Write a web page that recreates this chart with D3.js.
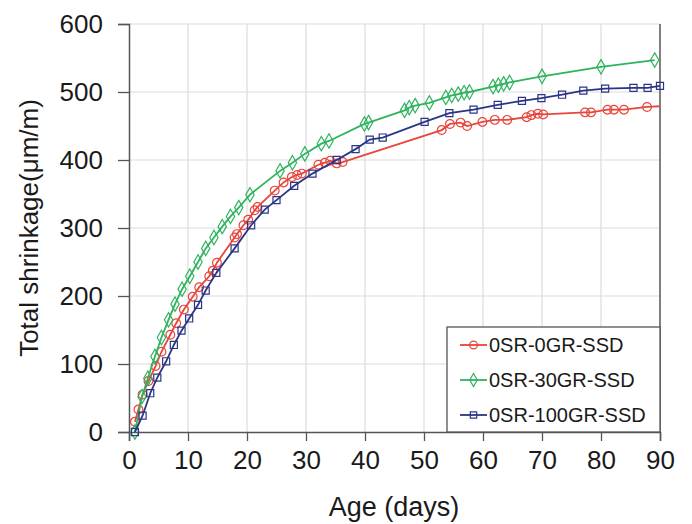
<!DOCTYPE html>
<html>
<head>
<meta charset="utf-8">
<script src="https://cdn.jsdelivr.net/npm/d3@7"></script>
<style>
  html, body { margin: 0; padding: 0; background: #fff; }
  svg { display: block; font-family: "Liberation Sans", Arial, sans-serif; }
</style>
</head>
<body>
<svg id="chart" width="692" height="524"></svg>
<script>
// ---- data ----
const xTicks = [0, 10, 20, 30, 40, 50, 60, 70, 80, 90];
const yTicks = [0, 100, 200, 300, 400, 500, 600];
const seriesNames = ["0SR-0GR-SSD", "0SR-30GR-SSD", "0SR-100GR-SSD"];

const redDays = [1, 1.6, 2.3, 3.3, 4.5, 5.5, 7.0, 8.0, 9.3, 10.8, 11.9, 13.6, 14.2, 14.9, 17.9, 18.3, 19.4, 20.2, 21.3, 21.8, 24.7, 26.2, 27.6, 28.5, 29.3, 32.1, 33.2, 34.1, 35.2, 36.2, 53.0, 54.4, 56.2, 57.3, 59.9, 62.0, 64.1, 67.4, 68.2, 69.3, 70.2, 77.3, 78.3, 81.1, 82.2, 83.9, 87.8, 92];
const redVals = [15, 33, 55, 75, 97, 118, 143, 160, 180, 199, 213, 229, 237, 249, 286, 291, 304, 312, 326, 331, 355, 367, 375, 378, 380, 393, 396, 399, 395, 397, 444, 453, 455, 450, 456, 459, 459, 463, 466, 468, 467, 470, 470, 474, 474, 474, 478, 480];

const greenDays = [1, 2.2, 3.2, 4.4, 5.5, 6.7, 7.8, 9.0, 10.3, 11.7, 13.0, 14.4, 15.8, 17.2, 18.6, 20.5, 25.6, 27.7, 29.8, 32.6, 33.9, 39.9, 40.6, 46.7, 47.5, 48.5, 50.9, 53.7, 54.7, 55.8, 56.8, 57.7, 61.7, 62.6, 63.5, 64.5, 70, 80, 89.1];
const greenVals = [0, 52, 79, 111, 139, 165, 188, 210, 229, 250, 270, 286, 302, 317, 330, 349, 384, 396, 409, 424, 428, 453, 455, 473, 477, 480, 484, 492, 495, 497, 499, 500, 508, 510, 512, 514, 523, 537, 547];

const blueDays = [1, 2.3, 3.6, 4.8, 6.3, 7.6, 8.9, 10.2, 11.7, 13.0, 14.8, 17.9, 20.7, 23.0, 25.0, 28.0, 31.1, 35.2, 38.4, 40.8, 43.0, 50.1, 54.3, 58.4, 62.5, 66.6, 69.9, 73.4, 77.0, 80.7, 85.5, 87.9, 90];
const blueVals = [0, 24, 57, 80, 104, 128, 149, 167, 187, 208, 234, 270, 304, 327, 341, 362, 380, 400, 416, 430, 433, 456, 469, 474, 481, 487, 491, 496, 502, 505, 506, 506, 509];

const colors = ["#e8453c", "#2fb35e", "#2b3585"];
const symbols = [d3.symbolCircle, d3.symbolDiamond, d3.symbolSquare];
const symbolSizes = [60, 60, 50];

const series = [
  { name: seriesNames[0], days: redDays, vals: redVals },
  { name: seriesNames[1], days: greenDays, vals: greenVals },
  { name: seriesNames[2], days: blueDays, vals: blueVals }
];

// ---- layout ----
const svg = d3.select("#chart");
const x = d3.scaleLinear().domain([0, 90]).range([129, 660]);
const y = d3.scaleLinear().domain([0, 600]).range([432, 24]);

svg.append("defs").append("clipPath").attr("id", "plotclip")
  .append("rect")
  .attr("x", x(0)).attr("y", y(600))
  .attr("width", x(90) - x(0)).attr("height", y(0) - y(600));

// gridlines
const grid = svg.append("g");
grid.selectAll("line.vx").data(xTicks.filter(d => d > 0 && d < 90)).enter().append("line")
  .attr("x1", d => x(d)).attr("x2", d => x(d))
  .attr("y1", y(0)).attr("y2", y(600))
  .attr("stroke", "#dcdcdc").attr("stroke-width", 1.2);
grid.selectAll("line.hy").data(yTicks.filter(d => d > 0)).enter().append("line")
  .attr("x1", x(0)).attr("x2", x(90))
  .attr("y1", d => y(d)).attr("y2", d => y(d))
  .attr("stroke", "#dcdcdc").attr("stroke-width", 1.2);

// right border
svg.append("line")
  .attr("x1", x(90)).attr("x2", x(90)).attr("y1", y(0)).attr("y2", y(600))
  .attr("stroke", "#555").attr("stroke-width", 1.5);

// axes
const xAxis = d3.axisBottom(x).tickValues(xTicks).tickSize(9).tickPadding(12);
const yAxis = d3.axisLeft(y).tickValues(yTicks).tickSize(11).tickPadding(15);

const gx = svg.append("g").attr("transform", `translate(0,${y(0)})`).call(xAxis);
const gy = svg.append("g").attr("transform", `translate(${x(0)},0)`).call(yAxis);
[gx, gy].forEach(g => {
  g.select(".domain").attr("stroke", "#555").attr("stroke-width", 1.5);
  g.selectAll(".tick line").attr("stroke", "#555").attr("stroke-width", 1.3);
  g.selectAll(".tick text").attr("fill", "#1a1a1a")
    .style("font-size", "26px").style("font-family", "'Liberation Sans', Arial, sans-serif");
});
gx.selectAll(".tick text").attr("dy", "0.62em");

// series lines + markers
const line = d3.line().x(d => x(d[0])).y(d => y(d[1])).curve(d3.curveLinear);
series.forEach((s, i) => {
  const pts = s.days.map((d, k) => [d, s.vals[k]]);
  svg.append("path")
    .datum(pts)
    .attr("clip-path", "url(#plotclip)")
    .attr("fill", "none")
    .attr("stroke", colors[i])
    .attr("stroke-width", 1.8)
    .attr("d", line);
  svg.append("g").selectAll("path").data(pts.filter(p => p[0] <= 90)).enter().append("path")
    .attr("transform", p => `translate(${x(p[0])},${y(p[1])})`)
    .attr("d", d3.symbol().type(symbols[i]).size(symbolSizes[i]))
    .attr("fill", "none")
    .attr("stroke", colors[i])
    .attr("stroke-width", 1.2);
});

// legend
const lg = svg.append("g");
lg.append("rect")
  .attr("x", 447).attr("y", 327)
  .attr("width", x(90) - 447).attr("height", y(0) - 327)
  .attr("fill", "#fff").attr("stroke", "#555").attr("stroke-width", 1.3);
series.forEach((s, i) => {
  const cy = 345 + i * 35;
  lg.append("line").attr("x1", 460).attr("x2", 487).attr("y1", cy).attr("y2", cy)
    .attr("stroke", colors[i]).attr("stroke-width", 1.8);
  lg.append("path").attr("transform", `translate(473.5,${cy})`)
    .attr("d", d3.symbol().type(symbols[i]).size(symbolSizes[i] * 0.8))
    .attr("fill", "none").attr("stroke", colors[i]).attr("stroke-width", 1.2);
  lg.append("text").attr("x", 489).attr("y", cy).attr("dy", "0.36em")
    .attr("fill", "#1a1a1a").style("font-size", "20px").text(s.name);
});

// axis titles
svg.append("text")
  .attr("x", 394).attr("y", 506).attr("dy", "0.36em")
  .attr("text-anchor", "middle").attr("fill", "#1a1a1a")
  .style("font-size", "27px").text("Age (days)");
svg.append("text")
  .attr("transform", "translate(29,228) rotate(-90)")
  .attr("dy", "0.36em")
  .attr("text-anchor", "middle").attr("fill", "#1a1a1a")
  .style("font-size", "26px").text("Total shrinkage(μm/m)");
</script>
</body>
</html>
